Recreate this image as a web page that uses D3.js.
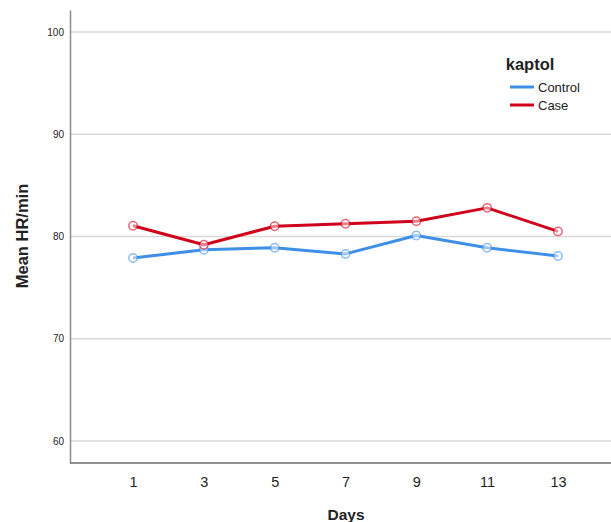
<!DOCTYPE html>
<html><head><meta charset="utf-8">
<script src="https://cdn.jsdelivr.net/npm/d3@7"></script>
<style>body{margin:0;background:#fff}svg{display:block;font-family:"Liberation Sans",Arial,sans-serif}</style>
</head><body>
<svg id="c" width="611" height="522"></svg>
<script>
const days = ["1","3","5","7","9","11","13"];
const controlValues = [77.9, 78.7, 78.9, 78.3, 80.1, 78.9, 78.1];
const caseValues = [81.05, 79.2, 81.0, 81.25, 81.5, 82.8, 80.5];
const yTicks = [60, 70, 80, 90, 100];
const seriesNames = ["Control", "Case"];
const seriesColors = ["#3f8fe6", "#d0021b"];

(function () {
const svg = d3.select("#c");
const pL = 70, pR = 621, pT = 10, pB = 463;
const x = d3.scalePoint().domain(days).range([pL, pR]).padding(0.89);
const y = d3.scaleLinear().domain([57.85, 102.15]).range([pB, pT]);

// grid
svg.append("g").selectAll("line").data(yTicks).join("line")
  .attr("x1", pL).attr("x2", 611).attr("y1", d => y(d)).attr("y2", d => y(d))
  .attr("stroke", "#d9d9d9").attr("stroke-width", 1.5);

// y axis
const ya = svg.append("g").attr("transform", `translate(${pL},0)`)
  .call(d3.axisLeft(y).tickValues(yTicks).tickSize(0).tickPadding(6));
ya.select(".domain").attr("stroke", "#8c8c8c").attr("stroke-width", 1.5);
ya.selectAll("text").attr("font-size", 10).attr("fill", "#222");

// x axis
const xa = svg.append("g").attr("transform", `translate(0,${pB})`)
  .call(d3.axisBottom(x).tickSize(0).tickPadding(14));
xa.select(".domain").attr("stroke", "#6e6e6e").attr("stroke-width", 1.5).attr("d", `M${pL},0H611`);
xa.selectAll("text").attr("font-size", 14.5).attr("fill", "#222");

// axis titles
svg.append("text").attr("x", 346).attr("y", 520).attr("text-anchor", "middle")
  .attr("font-size", 15.5).attr("font-weight", "bold").attr("fill", "#222").text("Days");
svg.append("text").attr("transform", "translate(28,236) rotate(-90)").attr("text-anchor", "middle")
  .attr("font-size", 16.5).attr("font-weight", "bold").attr("fill", "#222").text("Mean HR/min");

// lines
const allSeries = [controlValues, caseValues];
const line = d3.line().x((d, i) => x(days[i])).y(d => y(d));
allSeries.forEach((vals, s) => {
  const g = svg.append("g");
  g.append("path").datum(vals).attr("d", line).attr("fill", "none")
    .attr("stroke", seriesColors[s]).attr("stroke-width", 3).attr("stroke-linejoin", "round");
  g.selectAll("circle").data(vals).join("circle")
    .attr("cx", (d, i) => x(days[i])).attr("cy", d => y(d)).attr("r", 4.2)
    .attr("fill", "#fff").attr("fill-opacity", 0.5)
    .attr("stroke", seriesColors[s]).attr("stroke-opacity", 0.6).attr("stroke-width", 1.5);
});

// legend
const lg = svg.append("g");
lg.append("text").attr("x", 530).attr("y", 70).attr("text-anchor", "middle")
  .attr("font-size", 16.5).attr("font-weight", "bold").attr("fill", "#222").text("kaptol");
seriesNames.forEach((n, i) => {
  const yy = 87 + i * 18;
  lg.append("line").attr("x1", 510).attr("x2", 534).attr("y1", yy).attr("y2", yy)
    .attr("stroke", seriesColors[i]).attr("stroke-width", 3);
  lg.append("text").attr("x", 538).attr("y", yy + 4.5).attr("font-size", 13).attr("fill", "#222").text(n);
});
})();
</script>
</body></html>
